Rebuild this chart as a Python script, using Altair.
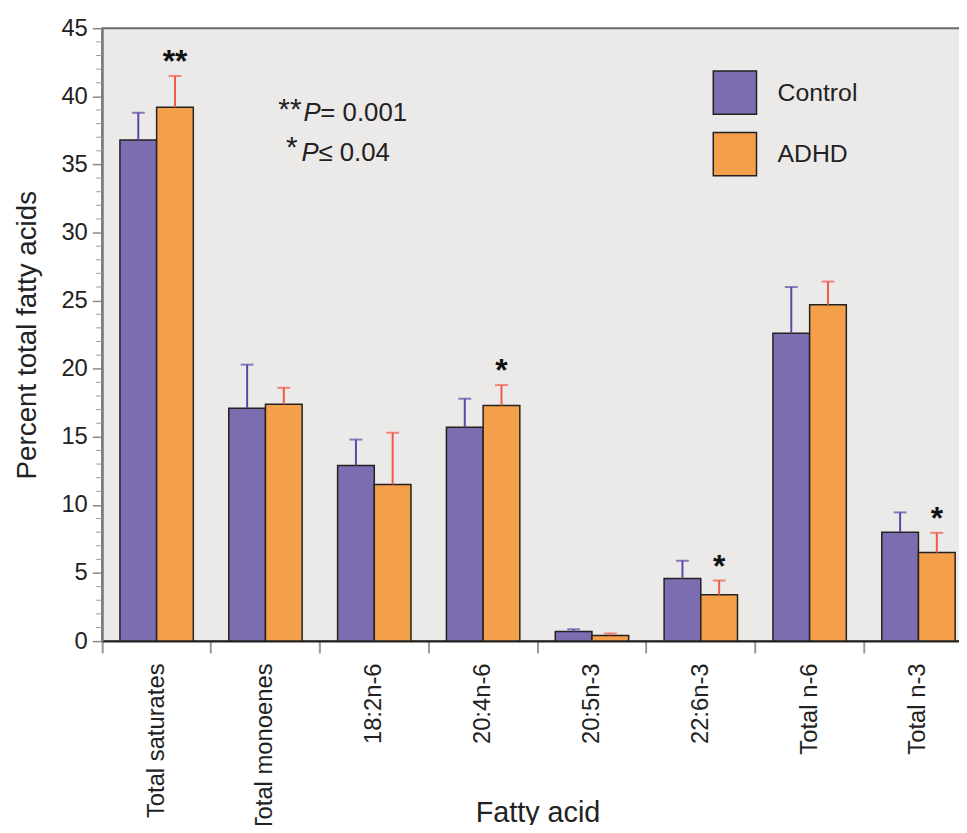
import altair as alt
import pandas as pd

categories = ["Total saturates", "Total monoenes", "18:2n-6", "20:4n-6",
              "20:5n-3", "22:6n-3", "Total n-6", "Total n-3"]
groups = ["Control", "ADHD"]
err_groups = ["Control error", "ADHD error"]
control_mean = [36.8, 17.1, 12.9, 15.7, 0.70, 4.6, 22.6, 8.0]
control_err = [2.0, 3.2, 1.9, 2.1, 0.17, 1.3, 3.4, 1.45]
adhd_mean = [39.2, 17.4, 11.5, 17.3, 0.42, 3.4, 24.7, 6.5]
adhd_err = [2.3, 1.2, 3.8, 1.5, 0.14, 1.05, 1.7, 1.45]
adhd_sig = ["**", "", "", "*", "", "*", "", "*"]
y_major = list(range(0, 46, 5))
y_minor = [v for v in range(0, 46) if v % 5]

rows = []
for i, c in enumerate(categories):
    rows.append({"cat": c, "group": groups[0], "eg": err_groups[0], "mean": control_mean[i],
                 "top": control_mean[i] + control_err[i], "sig": ""})
    rows.append({"cat": c, "group": groups[1], "eg": err_groups[1], "mean": adhd_mean[i],
                 "top": adhd_mean[i] + adhd_err[i], "sig": adhd_sig[i]})
df = pd.DataFrame(rows)
minor_df = pd.DataFrame({"v": y_minor})

FONT = "Liberation Sans"
bar_colors = ["#7B6DB0", "#F4A04A"]
err_colors = ["#5B47AA", "#F0584A"]

yscale = alt.Scale(domain=[0, 45], nice=False, zero=True)
yaxis = alt.Axis(orient="left", values=y_major, labelFontSize=24,
                 labelColor="#222", labelPadding=5, tickSize=10,
                 tickColor="#888", tickWidth=1.5, domainColor="#777",
                 domainWidth=2, grid=False, titleFontSize=28,
                 titleFontWeight="normal", titleColor="#222",
                 titlePadding=20)
YTITLE = "Percent total fatty acids"

x_enc = alt.X(
    "cat:N", sort=categories,
    scale=alt.Scale(paddingInner=0, paddingOuter=0),
    axis=alt.Axis(
        bandPosition=0, labelAngle=-90, labelFontSize=24, labelColor="#222",
        labelPadding=10, labelLimit=400, tickSize=12, tickColor="#999",
        tickWidth=2, domainColor="#222", domainWidth=2,
        title="Fatty acid", titleFontSize=29, titleFontWeight="normal",
        titleColor="#222", titleY=182, titleBaseline="alphabetic",
    ),
)
xo_enc = alt.XOffset("group:N", sort=groups,
                     scale=alt.Scale(paddingInner=0, paddingOuter=0.483))

base = alt.Chart(df).encode(x=x_enc, xOffset=xo_enc)

bars = base.mark_bar(stroke="#222", strokeWidth=1.5).encode(
    y=alt.Y("mean:Q", scale=yscale, title=YTITLE, axis=yaxis),
    fill=alt.Fill("group:N", sort=groups,
                  scale=alt.Scale(domain=groups, range=bar_colors),
                  legend=alt.Legend(title=None, orient="none", legendX=615,
                                    legendY=42, symbolType="square",
                                    symbolSize=1900, symbolStrokeColor="#222",
                                    symbolStrokeWidth=1.5, symbolOpacity=1,
                                    labelFontSize=25, labelFont=FONT,
                                    labelColor="#222", labelOffset=20,
                                    rowPadding=12, padding=0)),
)

err_scale = alt.Scale(domain=err_groups, range=err_colors)

err = base.mark_rule(strokeWidth=2).encode(
    y=alt.Y("mean:Q", scale=yscale, title=YTITLE, axis=yaxis), y2="top:Q",
    color=alt.Color("eg:N", scale=err_scale, legend=None),
)
caps = base.mark_tick(size=13, thickness=2).encode(
    y=alt.Y("top:Q", scale=yscale, title=YTITLE, axis=yaxis),
    color=alt.Color("eg:N", scale=err_scale, legend=None),
)
stars = base.transform_filter("datum.sig != ''").mark_text(
    fontSize=32, fontWeight="bold", color="#111", baseline="alphabetic", dy=-4
).encode(y=alt.Y("top:Q", scale=yscale, title=YTITLE, axis=yaxis), text="sig:N")

minor = alt.Chart(minor_df).mark_rule(color="#999", strokeWidth=1).encode(
    y=alt.Y("v:Q", scale=yscale, title=YTITLE, axis=yaxis),
    x=alt.value(-6), x2=alt.value(0),
)

one = alt.Data(values=[{}])
ann_kw = dict(color="#222", baseline="alphabetic")
a1 = alt.Chart(one).mark_text(text="**", align="right", fontSize=30, **ann_kw).encode(
    x=alt.value(201), y=alt.value(91))
a2 = alt.Chart(one).mark_text(text="P", align="left", fontStyle="italic", fontSize=26, **ann_kw).encode(
    x=alt.value(203), y=alt.value(94))
a3 = alt.Chart(one).mark_text(text="= 0.001", align="left", fontSize=26, **ann_kw).encode(
    x=alt.value(220), y=alt.value(94))
a4 = alt.Chart(one).mark_text(text="*", align="right", fontSize=30, **ann_kw).encode(
    x=alt.value(197), y=alt.value(130))
a5 = alt.Chart(one).mark_text(text="P", align="left", fontStyle="italic", fontSize=26, **ann_kw).encode(
    x=alt.value(201), y=alt.value(134))
a6 = alt.Chart(one).mark_text(text="\u2264 0.04", align="left", fontSize=26, **ann_kw).encode(
    x=alt.value(218), y=alt.value(134))

chart = alt.layer(bars, err, caps, stars, minor, a1, a2, a3, a4, a5, a6).properties(
    width=878, height=618,
    autosize=alt.AutoSizeParams(type="none"),
    padding={"left": 95, "top": 17, "right": -14, "bottom": 182},
    background="white",
).configure(font=FONT).configure_view(
    fill="#ECEAE8", stroke="#6b6b6b", strokeWidth=2
)

chart.save("out.html", embed_options={"renderer": "svg", "actions": False})
